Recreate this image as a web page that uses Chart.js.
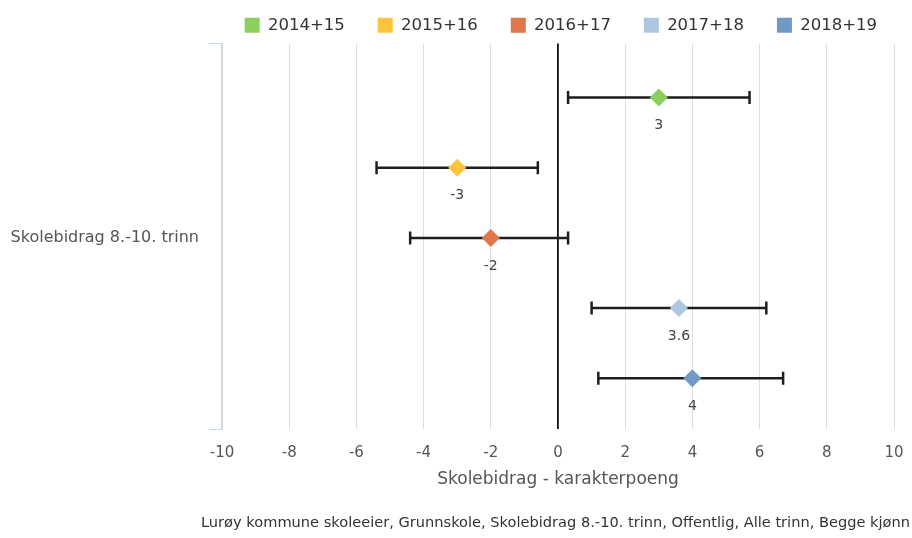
<!DOCTYPE html>
<html>
<head>
<meta charset="utf-8">
<script src="https://cdn.jsdelivr.net/npm/chart.js@4.4.1/dist/chart.umd.min.js"></script>
<style>
  html, body { margin: 0; padding: 0; background: #fff; }
  #wrap { width: 912px; height: 538px; }
</style>
</head>
<body>
<div id="wrap"><canvas id="chart"></canvas></div>
<script>
/* Skolebidrag chart */
const categories = ['Skolebidrag 8.-10. trinn'];
const seriesNames = ['2014+15', '2015+16', '2016+17', '2017+18', '2018+19'];
const values = [3, -3, -2, 3.6, 4];
const lows = [0.3, -5.4, -4.4, 1.0, 1.2];
const highs = [5.7, -0.6, 0.3, 6.2, 6.7];
const xTicks = [-10, -8, -6, -4, -2, 0, 2, 4, 6, 8, 10];
const colors = ['#8bcf5c', '#fcc43c', '#e0764a', '#aec7e1', '#7099c6'];
const xTitle = 'Skolebidrag - karakterpoeng';
const footer = 'Lurøy kommune skoleeier, Grunnskole, Skolebidrag 8.-10. trinn, Offentlig, Alle trinn, Begge kjønn';

const FONT = "'DejaVu Sans', sans-serif";
const Y_MIN = -0.77, Y_MAX = 4.73;

const markerSets = seriesNames.map((name, i) => ({
  label: name,
  data: [{ x: values[i], y: i }],
  backgroundColor: colors[i],
  borderColor: colors[i],
  borderWidth: 0,
  pointStyle: 'rectRot',
  pointRadius: 9,
  pointHoverRadius: 9,
  order: 0
}));

const errorSets = seriesNames.map((name, i) => ({
  label: name + ' err',
  isError: true,
  data: [{ x: lows[i], y: i }, { x: highs[i], y: i }],
  showLine: true,
  borderColor: '#1e1e1e',
  borderWidth: 2.5,
  pointStyle: 'line',
  rotation: 90,
  pointRadius: 6.5,
  pointBorderColor: '#1e1e1e',
  pointBorderWidth: 2.5,
  backgroundColor: '#1e1e1e',
  order: 1
}));

const valueLabels = {
  id: 'valueLabels',
  afterDatasetsDraw(chart) {
    const ctx = chart.ctx;
    ctx.save();
    ctx.font = '14px ' + FONT;
    ctx.fillStyle = '#444';
    ctx.textAlign = 'center';
    ctx.textBaseline = 'middle';
    values.forEach((v, i) => {
      const pt = chart.getDatasetMeta(i).data[0];
      if (!pt) return;
      ctx.fillText(String(v), pt.x, pt.y + 28);
    });
    ctx.restore();
  }
};

new Chart(document.getElementById('chart'), {
  type: 'scatter',
  data: { datasets: [...markerSets, ...errorSets] },
  plugins: [valueLabels],
  options: {
    responsive: true,
    maintainAspectRatio: false,
    animation: false,
    layout: { padding: { top: -16, right: 2, left: 0, bottom: 0 } },
    plugins: {
      tooltip: { enabled: false },
      legend: {
        position: 'top',
        align: 'end',
        labels: {
          boxWidth: 15, boxHeight: 15, padding: 33,
          color: '#333', font: { family: FONT, size: 16.5 },
          filter: (item, data) => !data.datasets[item.datasetIndex].isError
        }
      },
      title: {
        display: true,
        text: footer,
        position: 'bottom',
        align: 'end',
        color: '#333',
        font: { family: FONT, size: 14.6, weight: 'normal' },
        padding: { top: 10, bottom: 6 }
      }
    },
    scales: {
      x: {
        type: 'linear',
        min: -10, max: 10,
        afterBuildTicks: s => { s.ticks = xTicks.map(v => ({ value: v })); },
        afterFit: s => { s.height = 75; s.paddingRight = 18; },
        grid: {
          drawTicks: false,
          color: c => c.tick && c.tick.value === 0 ? '#111' : '#dedede',
          lineWidth: c => c.tick && c.tick.value === 0 ? 1.8 : 1
        },
        border: { display: false },
        ticks: { padding: 15, color: '#555', font: { family: FONT, size: 15 } },
        title: { display: true, text: xTitle, color: '#555', font: { family: FONT, size: 17 }, padding: { top: 4, bottom: 15 } }
      },
      y: {
        type: 'linear',
        reverse: true,
        min: Y_MIN, max: Y_MAX,
        afterBuildTicks: s => { s.ticks = [{ value: Y_MIN }, { value: 2 }, { value: Y_MAX }]; },
        afterFit: s => { s.width = 222; },
        grid: {
          drawOnChartArea: false,
          tickLength: 13,
          color: c => c.tick && c.tick.value === 2 ? 'rgba(0,0,0,0)' : '#c6d5ea'
        },
        border: { color: '#c6d5ea', width: 1.5 },
        ticks: {
          padding: 10, color: '#555', font: { family: FONT, size: 16 },
          callback: v => v === 2 ? categories[0] : ''
        }
      }
    }
  }
});
</script>
</body>
</html>
